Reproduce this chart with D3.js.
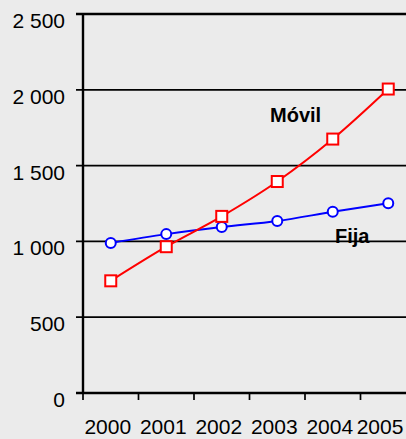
<!DOCTYPE html>
<html>
<head>
<meta charset="utf-8">
<script src="https://cdn.jsdelivr.net/npm/d3@7"></script>
<style>
  body { margin: 0; background: #ebebeb; }
  svg { display: block; font-family: "Liberation Sans", Arial, sans-serif; }
</style>
</head>
<body>
<script>
// data
var years = ["2000", "2001", "2002", "2003", "2004", "2005"];
var movil = [740, 965, 1165, 1395, 1675, 2005];
var fija = [990, 1048, 1095, 1135, 1195, 1252];
var yTicks = [0, 500, 1000, 1500, 2000, 2500];

var svgWidth = 406, svgHeight = 439;
var margin = { top: 14, right: -10, bottom: 46, left: 83 };
var width = svgWidth - margin.left - margin.right;
var height = svgHeight - margin.top - margin.bottom;

var svg = d3.select("body").append("svg")
    .attr("width", svgWidth)
    .attr("height", svgHeight);

svg.append("rect").attr("width", svgWidth).attr("height", svgHeight).attr("fill", "#ebebeb");

var chartGroup = svg.append("g")
    .attr("transform", `translate(${margin.left}, ${margin.top})`);

var xScale = d3.scaleBand().domain(years).range([0, width]);
var yScale = d3.scaleLinear().domain([0, 2500]).range([height, 0]);

// gridlines
chartGroup.selectAll("line.grid")
    .data(yTicks)
    .enter().append("line")
    .attr("class", "grid")
    .attr("x1", -7).attr("x2", width)
    .attr("y1", d => yScale(d)).attr("y2", d => yScale(d))
    .attr("stroke", "#000")
    .attr("stroke-width", d => d === 2500 || d === 0 ? 2.4 : 1.7);

// y labels (sit a bit below their gridline, like the original)
var fmt = d => d3.format(",")(d).replace(",", " ");
chartGroup.selectAll("text.ylab")
    .data(yTicks)
    .enter().append("text")
    .attr("x", -18)
    .attr("y", d => yScale(d) + 14)
    .attr("text-anchor", "end")
    .attr("font-size", 21)
    .attr("fill", "#000")
    .text(fmt);

// y axis line
chartGroup.append("line")
    .attr("x1", 0).attr("x2", 0)
    .attr("y1", 0).attr("y2", height)
    .attr("stroke", "#000").attr("stroke-width", 2.4);

// x ticks at category boundaries
chartGroup.selectAll("line.xtick")
    .data(years)
    .enter().append("line")
    .attr("x1", d => xScale(d)).attr("x2", d => xScale(d))
    .attr("y1", height).attr("y2", height + 7)
    .attr("stroke", "#000").attr("stroke-width", 1.7);

// x labels (keep the last one inside the window)
var maxX = svgWidth - margin.left - 26;
chartGroup.selectAll("text.xlab")
    .data(years)
    .enter().append("text")
    .attr("x", d => Math.min(xScale(d) + xScale.bandwidth() / 2 - 3, maxX))
    .attr("y", height + 41)
    .attr("text-anchor", "middle")
    .attr("font-size", 21)
    .attr("fill", "#000")
    .text(d => d);

var cx = (d, i) => xScale(years[i]) + xScale.bandwidth() / 2;

var line = d3.line()
    .x((d, i) => cx(d, i))
    .y(d => yScale(d))
    .curve(d3.curveMonotoneX);

chartGroup.append("path")
    .datum(fija)
    .attr("d", line)
    .attr("fill", "none")
    .attr("stroke", "#0000ff")
    .attr("stroke-width", 2);

chartGroup.append("path")
    .datum(movil)
    .attr("d", line)
    .attr("fill", "none")
    .attr("stroke", "#ff0000")
    .attr("stroke-width", 2);

chartGroup.selectAll("circle.fija")
    .data(fija)
    .enter().append("circle")
    .attr("cx", cx)
    .attr("cy", d => yScale(d))
    .attr("r", 5)
    .attr("fill", "#fff")
    .attr("stroke", "#0000ff")
    .attr("stroke-width", 2);

chartGroup.selectAll("rect.movil")
    .data(movil)
    .enter().append("rect")
    .attr("x", (d, i) => cx(d, i) - 5.5)
    .attr("y", d => yScale(d) - 5.5)
    .attr("width", 11).attr("height", 11)
    .attr("fill", "#fff")
    .attr("stroke", "#ff0000")
    .attr("stroke-width", 2);

// series labels
chartGroup.append("text")
    .attr("x", 270 - margin.left)
    .attr("y", 122 - margin.top)
    .attr("font-size", 20).attr("font-weight", "bold")
    .text("Móvil");

chartGroup.append("text")
    .attr("x", 335 - margin.left)
    .attr("y", 243 - margin.top)
    .attr("font-size", 20).attr("font-weight", "bold")
    .text("Fija");
</script>
</body>
</html>
